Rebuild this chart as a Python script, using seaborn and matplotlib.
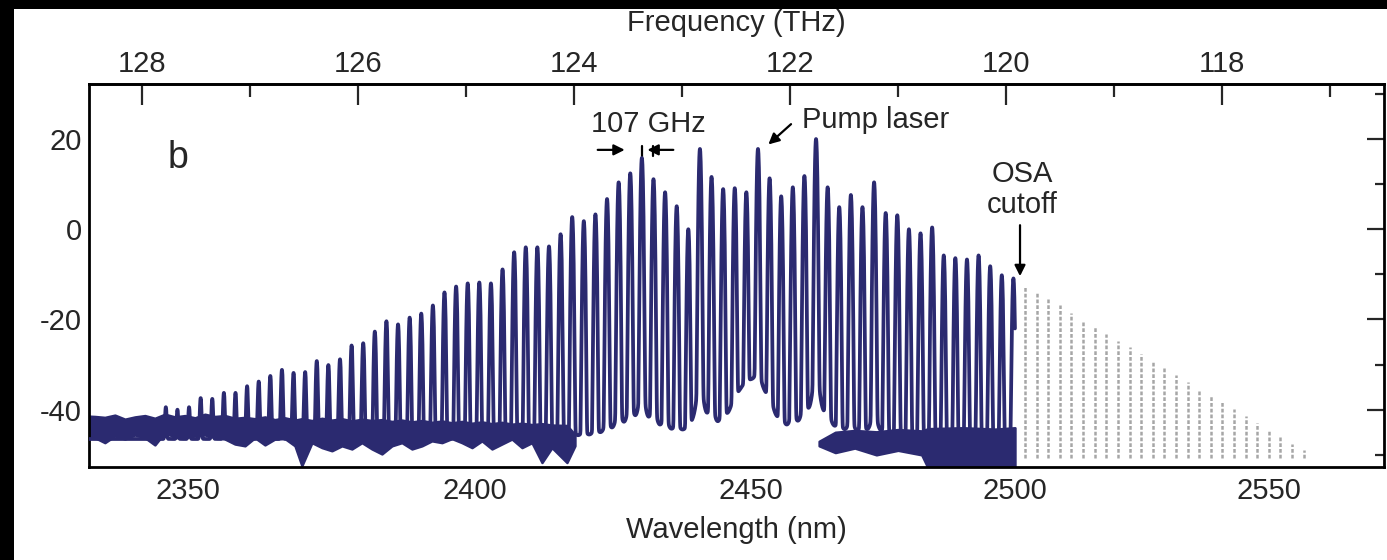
import numpy as np
import pandas as pd
import seaborn as sns
import matplotlib.pyplot as plt
from matplotlib.patches import Rectangle

C_NM_THZ = 299792.458

# comb: pump line and line spacing (THz)
pump_thz = 122.296
fsr_thz = 0.1075

# measured comb line peaks (dBm), line index -51 .. 22 relative to the pump
blue_index = list(range(-51, 23))
blue_peaks_db = [
    -40.4, -41.1, -40.4, -38.0, -38.2, -36.7, -36.7, -35.1, -34.0, -32.7,
    -31.3, -32.0, -31.8, -29.3, -30.2, -28.9, -25.8, -25.3, -22.7, -20.4,
    -21.1, -19.6, -18.7, -16.9, -14.0, -12.7, -12.0, -11.8, -12.0, -8.9,
    -5.1, -4.0, -4.0, -3.8, -1.1, 2.7, 1.8, 3.3, 6.7, 10.4,
    12.4, 15.8, 11.1, 8.2, 5.1, 0.0, 17.8, 11.6, 8.9, 9.1,
    8.2, 17.8, 11.3, 7.3, 9.3, 11.8, 20.0, 9.3, 4.9, 7.6,
    4.9, 10.4, 3.6, 3.1, 0.0, -0.9, 0.4, -5.8, -6.4, -6.7,
    -5.8, -8.2, -10.2, -10.9,
]

# lines beyond the OSA cutoff (dashed grey), index 23 .. 47
grey_index = list(range(23, 48))
grey_peaks_db = [
    -12.7, -13.9, -15.4, -16.9, -18.6, -20.1, -21.6, -23.2, -24.7, -26.2,
    -27.6, -29.3, -30.7, -32.2, -33.8, -35.4, -36.7, -38.4, -39.9, -41.3,
    -43.0, -44.5, -46.0, -47.5, -48.9,
]
grey_bottom_db = -50.6

# noise floor, short-wavelength side (THz, upper / lower edge dBm)
floor_left_thz = [
    128.60, 128.435, 128.343, 128.250, 128.157, 128.065, 127.972, 127.880, 127.787, 127.694,
    127.602, 127.509, 127.417, 127.324, 127.231, 127.139, 127.046, 126.954, 126.861, 126.769,
    126.676, 126.583, 126.519, 126.426, 126.333, 126.241, 126.148, 126.056, 125.963, 125.870,
    125.778, 125.685, 125.593, 125.500, 125.407, 125.315, 125.222, 125.130, 125.037, 124.944,
    124.852, 124.759, 124.667, 124.574, 124.481, 124.389, 124.296, 124.204, 124.065, 123.991,
]
floor_left_hi = [
    -41.3, -41.5, -41.7, -41.2, -42.1, -41.6, -41.3, -41.9, -41.0, -41.6,
    -41.3, -41.8, -41.0, -41.5, -41.3, -41.9, -41.7, -42.0, -41.6, -42.2,
    -41.8, -42.3, -42.0, -42.4, -41.9, -42.3, -42.0, -42.5, -42.1, -42.4,
    -42.2, -42.6, -42.3, -42.7, -42.4, -42.8, -42.5, -42.9, -42.6, -43.0,
    -42.7, -43.1, -42.8, -43.2, -43.0, -43.3, -43.1, -43.4, -43.5, -45.5,
]
floor_left_lo = [
    -45.8, -46.2, -47.3, -45.8, -46.5, -45.6, -46.2, -47.8, -45.0, -46.2,
    -46.2, -45.8, -45.6, -46.2, -46.5, -47.6, -48.0, -46.2, -47.8, -46.5,
    -46.4, -48.0, -52.4, -47.3, -48.4, -49.1, -48.0, -48.7, -47.3, -48.7,
    -49.8, -48.0, -47.3, -48.7, -48.0, -46.9, -47.3, -46.4, -47.3, -48.4,
    -46.9, -48.7, -47.6, -46.5, -48.4, -47.3, -51.7, -48.4, -51.7, -48.0,
]

# noise floor, long-wavelength side up to the OSA cutoff
floor_right_thz = [121.73, 121.58, 121.40, 121.20, 121.00, 120.78, 120.72, 120.40, 120.10, 119.917]
floor_right_hi = [-47.0, -45.0, -44.6, -44.9, -44.4, -44.7, -44.2, -44.0, -44.3, -44.0]
floor_right_lo = [-48.0, -49.5, -48.5, -50.0, -49.0, -50.0, -53.0, -53.0, -53.0, -53.0]

trace_base_db = -46.5
pedestal_db = -34.0
pedestal_center_thz = 122.36
pedestal_width_thz = 0.10

wl_ticks = [2350, 2400, 2450, 2500, 2550]
thz_ticks = [128, 126, 124, 122, 120, 118]
thz_minor = [127, 125, 123, 121, 119, 117]
y_ticks = [-40, -20, 0, 20]
y_minor = [-50, -30, -10, 10, 30]

navy = '#2b2a70'
fs = 21

sns.set_style('white')
plt.rcParams['font.family'] = ['Liberation Sans', 'DejaVu Sans']
plt.rcParams['axes.unicode_minus'] = False

# spectrum trace built from the comb line list
blue_f = pump_thz - np.array(blue_index) * fsr_thz
blue_h = np.array(blue_peaks_db)
f_end = C_NM_THZ / 2500.0
f_grid = np.linspace(f_end, 128.6, 34000)
sig = 0.0062
gam = 0.0074
d = f_grid[:, None] - blue_f[None, :]
shape = np.exp(-d ** 2 / (2 * sig ** 2)) + 5e-5 / (1 + (d / gam) ** 2)
lin = (10 ** (blue_h / 10))[None, :] * shape
ped = 10 ** (pedestal_db / 10) * np.exp(-(f_grid - pedestal_center_thz) ** 2
                                       / (2 * pedestal_width_thz ** 2))
trace = 10 * np.log10(lin.sum(axis=1) + ped + 10 ** (trace_base_db / 10))
df = pd.DataFrame({'freq': f_grid, 'power': trace})

fig = plt.figure(figsize=(13.87, 5.60), dpi=100)
fig.patch.set_facecolor('black')
fig.add_artist(Rectangle((14 / 1387, 0), 1, 1 - 9 / 560, transform=fig.transFigure,
                         facecolor='white', edgecolor='none', zorder=-10))
ax = fig.add_axes([89 / 1387, 1 - 467 / 560, (1384 - 89) / 1387, (467 - 84) / 560])

# noise floor
for fx, hi, lo in [(floor_left_thz, floor_left_hi, floor_left_lo),
                   (floor_right_thz, floor_right_hi, floor_right_lo)]:
    ax.fill_between(fx, lo, hi, color=navy, lw=1.8, zorder=2)

sns.lineplot(data=df, x='freq', y='power', ax=ax, color=navy, lw=2.7,
             estimator=None, sort=False, zorder=3)

grey_f = pump_thz - np.array(grey_index) * fsr_thz
ax.vlines(grey_f, grey_bottom_db, grey_peaks_db, colors='#a6a6a6', lw=1.8,
          linestyles=(0, (1.5, 0.8)), zorder=2)

ax.set_xlim(128.49, 116.50)
ax.set_ylim(-52.7, 32.2)

ax.set_xticks([C_NM_THZ / w for w in wl_ticks])
ax.set_xticklabels([str(w) for w in wl_ticks])
ax.set_yticks(y_ticks)
ax.set_yticks(y_minor, minor=True)
ax.set_xlabel('Wavelength (nm)', fontsize=fs, labelpad=8)
ax.set_ylabel('')
ax.tick_params(axis='x', which='major', direction='in', length=14, width=1.6,
               labelsize=fs, pad=7, top=False)
ax.tick_params(axis='y', which='major', direction='in', length=12, width=1.6,
               labelsize=fs, pad=5, right=True)
ax.tick_params(axis='y', which='minor', direction='in', length=6.5, width=1.6,
               right=True)
for s in ax.spines.values():
    s.set_linewidth(2)
    s.set_color('black')

top = ax.secondary_xaxis('top')
top.set_xticks(thz_ticks)
top.set_xticklabels([str(t) for t in thz_ticks])
top.set_xticks(thz_minor, minor=True)
top.tick_params(which='major', direction='in', length=15, width=1.6, labelsize=fs, pad=4)
top.tick_params(which='minor', direction='in', length=9, width=1.6)
top.set_xlabel('Frequency (THz)', fontsize=fs, labelpad=14)
top.spines['top'].set_linewidth(2)

# annotations
ax.text(127.67, 15.8, 'b', fontsize=27, ha='center', va='center')
ax.text(123.31, 23.3, '107 GHz', fontsize=fs, ha='center', va='center')
arrow_kw = dict(arrowstyle='-|>', color='black', lw=1.6, mutation_scale=16,
                shrinkA=0, shrinkB=0)
ax.annotate('', xy=(123.53, 17.6), xytext=(123.78, 17.6), arrowprops=arrow_kw)
ax.annotate('', xy=(123.32, 17.6), xytext=(123.08, 17.6), arrowprops=arrow_kw)
f_a = pump_thz + 10 * fsr_thz
f_b = pump_thz + 9 * fsr_thz
ax.plot([f_a, f_a], [13.6, 18.4], color='black', lw=1.6)
ax.plot([f_b, f_b], [16.2, 18.4], color='black', lw=1.6)

ax.text(121.21, 24.2, 'Pump laser', fontsize=fs, ha='center', va='center')
ax.annotate('', xy=(122.20, 18.8), xytext=(121.99, 23.3), arrowprops=arrow_kw)

ax.text(119.85, 12.2, 'OSA', fontsize=fs, ha='center', va='center')
ax.text(119.85, 5.3, 'cutoff', fontsize=fs, ha='center', va='center')
ax.annotate('', xy=(119.87, -10.4), xytext=(119.87, 0.9), arrowprops=arrow_kw)

fig.savefig('out.png', dpi=100, facecolor=fig.get_facecolor())
